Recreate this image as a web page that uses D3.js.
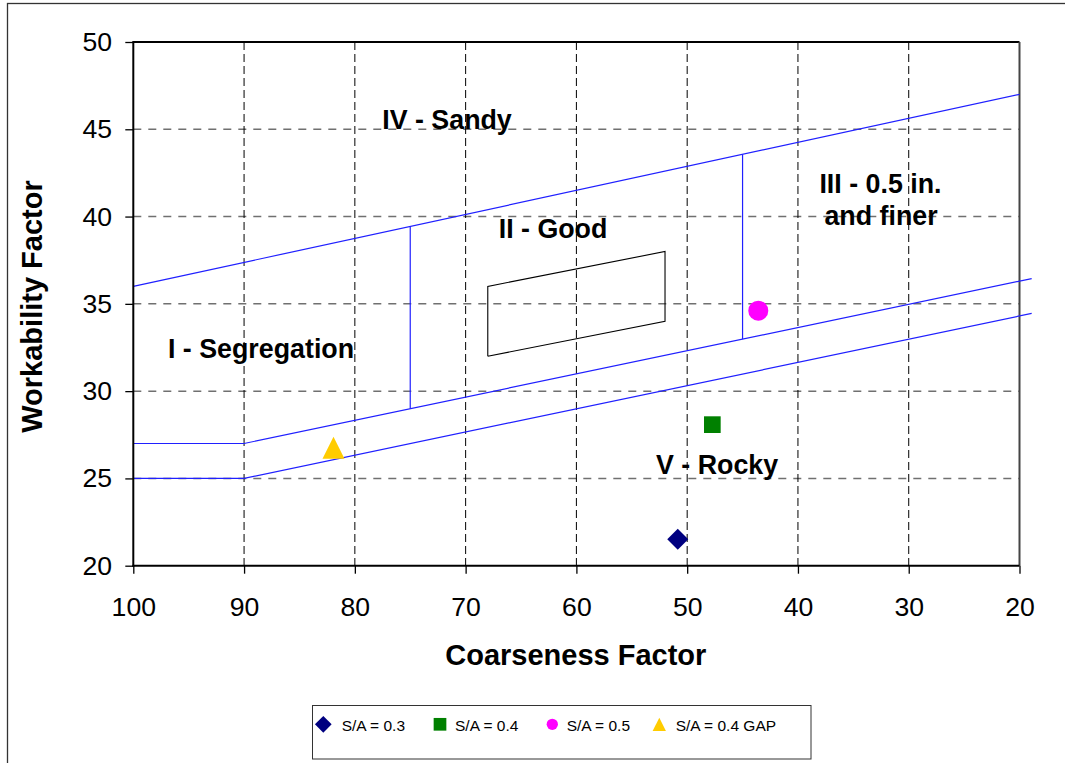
<!DOCTYPE html>
<html>
<head>
<meta charset="utf-8">
<script src="https://cdn.jsdelivr.net/npm/d3@7"></script>
<style>
  html, body { margin: 0; padding: 0; background: #fff; }
  svg { display: block; }
  text { font-family: "Liberation Sans", Arial, sans-serif; fill: #000; }
</style>
</head>
<body>
<svg id="chart" width="1065" height="763"></svg>
<script>
// Axis ticks
const xTicks = [100, 90, 80, 70, 60, 50, 40, 30, 20];
const yTicks = [20, 25, 30, 35, 40, 45, 50];

// Zone boundary lines (coarseness, workability)
const upperBound = [[100, 36], [20, 47]];
const middleBound = [[100, 27], [90, 27], [18.9, 36.45]];
const lowerBound = [[100, 25], [90, 25], [18.9, 34.45]];
const leftDivider = [[75, 29.0], [75, 39.44]];
const rightDivider = [[45, 32.98], [45, 43.56]];
const goodBox = [[68, 32], [68, 36], [52, 38], [52, 34], [68, 32]];

// Zone labels (anchored at text centre, baseline)
const zoneLabels = [
  { text: "IV - Sandy", x: 71.68, y: 45.02 },
  { text: "II - Good", x: 62.11, y: 38.77 },
  { text: "III - 0.5 in.", x: 32.55, y: 41.37 },
  { text: "and finer", x: 32.5, y: 39.52 },
  { text: "I - Segregation", x: 88.47, y: 31.92 },
  { text: "V - Rocky", x: 47.3, y: 25.25 }
];

// Mix series
const seriesNames = ["S/A = 0.3", "S/A = 0.4", "S/A = 0.5", "S/A = 0.4 GAP"];
const seriesX = [50.85, 47.73, 43.58, 81.93];
const seriesY = [21.51, 28.08, 34.61, 26.75];
const seriesColors = ["#000080", "#008000", "#FF00FF", "#FFCC00"];

// Symbol shapes; size is the marker's box width squared
const diamond = { draw(c, s) { const r = Math.sqrt(s) / 2; c.moveTo(0, -r); c.lineTo(r, 0); c.lineTo(0, r); c.lineTo(-r, 0); c.closePath(); } };
const square = { draw(c, s) { const r = Math.sqrt(s) / 2; c.rect(-r, -r, 2 * r, 2 * r); } };
const circle = { draw(c, s) { const r = Math.sqrt(s) / 2; c.moveTo(r, 0); c.arc(0, 0, r, 0, 2 * Math.PI); } };
const triangle = { draw(c, s) { const r = Math.sqrt(s) / 2; c.moveTo(0, -r); c.lineTo(r, r); c.lineTo(-r, r); c.closePath(); } };
const seriesShapes = [diamond, square, circle, triangle];
const plotSizes = [21, 16.7, 20, 22];
const legendSizes = [16.7, 12.7, 11.3, 13.3];

const svg = d3.select("#chart");
const L = 133.3, R = 1019.5, T = 42, B = 565.7;
const x = d3.scaleLinear().domain([100, 20]).range([L, R]);
const y = d3.scaleLinear().domain([20, 50]).range([B, T]);

// Outer chart frame
svg.append("rect")
  .attr("x", 7.5).attr("y", 3.5).attr("width", 1080).attr("height", 800)
  .attr("fill", "#fff").attr("stroke", "#333").attr("stroke-width", 1.3);

// Gridlines
svg.append("g").selectAll("line").data(yTicks.filter(v => v > 20 && v < 50)).join("line")
  .attr("x1", L).attr("x2", R).attr("y1", d => y(d)).attr("y2", d => y(d))
  .attr("stroke", "#707070").attr("stroke-width", 1.5).attr("stroke-dasharray", "8,7");
svg.append("g").selectAll("line").data(xTicks.filter(v => v < 100 && v > 20)).join("line")
  .attr("y1", T).attr("y2", B).attr("x1", d => x(d)).attr("x2", d => x(d))
  .attr("stroke", "#000").attr("stroke-width", 1).attr("stroke-dasharray", "8,4");

// Plot frame
svg.append("line").attr("x1", L).attr("x2", R).attr("y1", T).attr("y2", T)
  .attr("stroke", "#000").attr("stroke-width", 2);
svg.append("line").attr("x1", R).attr("x2", R).attr("y1", T).attr("y2", B)
  .attr("stroke", "#444").attr("stroke-width", 2);

// Zone lines
const line = d3.line().x(d => x(d[0])).y(d => y(d[1]));
[upperBound, middleBound, lowerBound, leftDivider, rightDivider].forEach(pts => {
  svg.append("path").attr("d", line(pts)).attr("fill", "none")
    .attr("stroke", "#2020FF").attr("stroke-width", 1.2);
});
svg.append("path").attr("d", line(goodBox)).attr("fill", "none")
  .attr("stroke", "#000").attr("stroke-width", 1.1);

// Axes
const yAxis = svg.append("g").attr("transform", `translate(${L},0)`)
  .call(d3.axisLeft(y).tickValues(yTicks).tickSize(8).tickPadding(13.3));
const xAxis = svg.append("g").attr("transform", `translate(0,${B})`)
  .call(d3.axisBottom(x).tickValues(xTicks).tickSize(8).tickPadding(23));
[yAxis, xAxis].forEach(g => {
  g.select(".domain").remove();
  g.selectAll(".tick line").attr("stroke", "#000").attr("stroke-width", 1.3);
  g.selectAll(".tick text").attr("font-size", 26.6).attr("fill", "#000")
    .style("font-family", '"Liberation Sans", Arial, sans-serif');
});
svg.append("line").attr("x1", L).attr("x2", L).attr("y1", T - 1).attr("y2", B + 1)
  .attr("stroke", "#000").attr("stroke-width", 2);
svg.append("line").attr("x1", L - 1).attr("x2", R).attr("y1", B).attr("y2", B)
  .attr("stroke", "#000").attr("stroke-width", 2);

// Axis titles
svg.append("text").attr("x", 575.8).attr("y", 665).attr("text-anchor", "middle")
  .attr("font-size", 29).attr("font-weight", "bold").text("Coarseness Factor");
svg.append("text").attr("transform", "translate(41.7,306.5) rotate(-90)")
  .attr("text-anchor", "middle").attr("font-size", 29).attr("font-weight", "bold")
  .text("Workability Factor");

// Zone labels
svg.append("g").selectAll("text").data(zoneLabels).join("text")
  .attr("x", d => x(d.x)).attr("y", d => y(d.y)).attr("text-anchor", "middle")
  .attr("font-size", 26.8).attr("font-weight", "bold").text(d => d.text);

// Data markers
svg.append("g").selectAll("path").data(seriesNames).join("path")
  .attr("transform", (d, i) => `translate(${x(seriesX[i])},${y(seriesY[i])})`)
  .attr("d", (d, i) => d3.symbol().type(seriesShapes[i]).size(plotSizes[i] ** 2)())
  .attr("fill", (d, i) => seriesColors[i]);

// Legend
const legend = svg.append("g");
legend.append("rect").attr("x", 312.5).attr("y", 705.5).attr("width", 498.5).attr("height", 53.5)
  .attr("fill", "#fff").attr("stroke", "#333").attr("stroke-width", 1);
const legendMarkX = [323.3, 440, 552.3, 659.3];
const legendTextX = [341.7, 455, 566.7, 675.7];
seriesNames.forEach((name, i) => {
  legend.append("path")
    .attr("transform", `translate(${legendMarkX[i]},724.3)`)
    .attr("d", d3.symbol().type(seriesShapes[i]).size(legendSizes[i] ** 2)())
    .attr("fill", seriesColors[i]);
  legend.append("text").attr("x", legendTextX[i]).attr("y", 730.5)
    .attr("font-size", 15.5).text(name);
});
</script>
</body>
</html>
